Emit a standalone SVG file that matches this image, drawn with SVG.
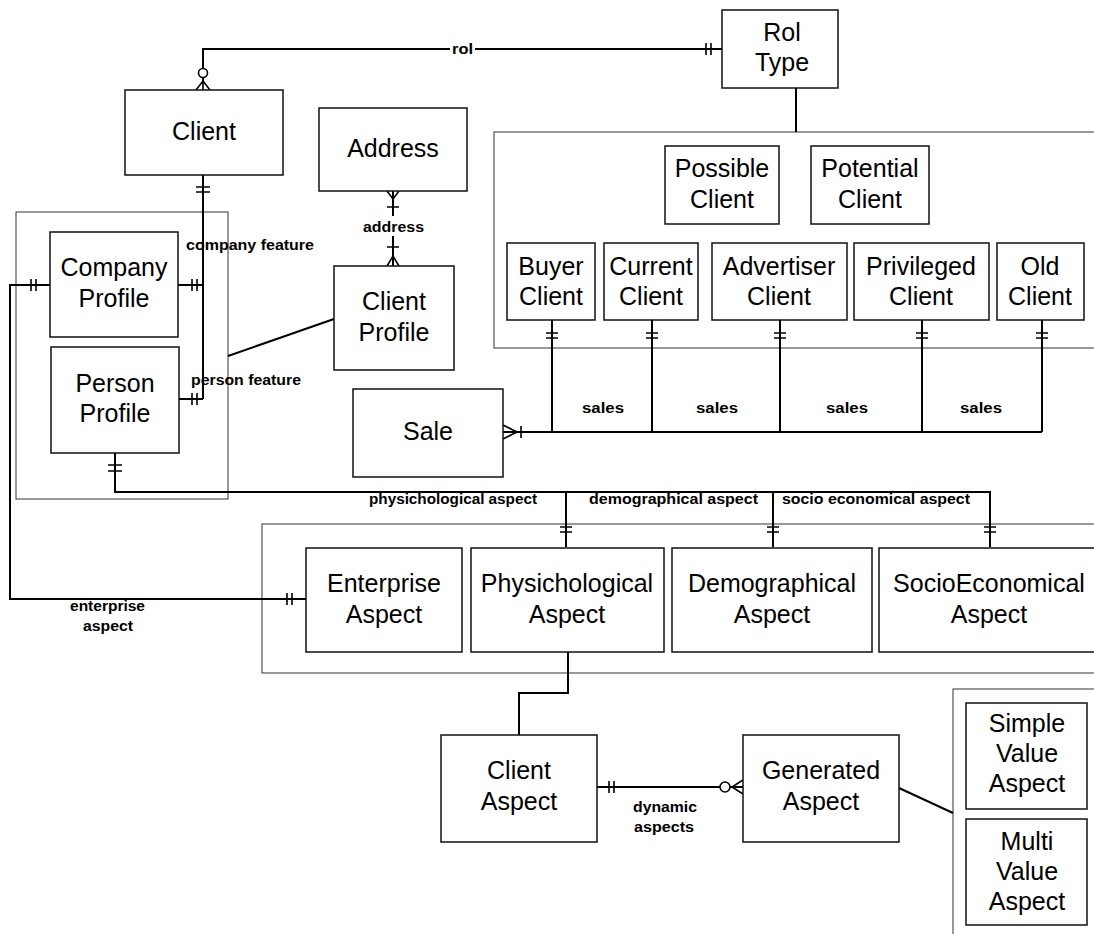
<svg xmlns="http://www.w3.org/2000/svg" width="1094" height="934" viewBox="0 0 1094 934">
  <style>
    .box { fill: #fff; stroke: #111; stroke-width: 1.5; }
    .grp { fill: none; stroke: #333; stroke-width: 1; }
    .ln  { fill: none; stroke: #000; stroke-width: 2; }
    .mk  { fill: none; stroke: #000; stroke-width: 1.6; }
    .o   { fill: #fff; stroke: #000; stroke-width: 1.6; }
    .t   { font-family: "Liberation Sans", Arial, sans-serif; font-size: 25px; text-anchor: middle; fill: #000; }
    .s   { font-family: "Liberation Sans", Arial, sans-serif; font-size: 14px; font-weight: bold; fill: #000; }
  </style>
  <rect width="1094" height="934" fill="#fff"/>

  <!-- subtype containers -->
  <g id="groups">
    <rect class="grp" x="16" y="212" width="212" height="287"/>
    <rect class="grp" x="494" y="132" width="700" height="216"/>
    <rect class="grp" x="262" y="524" width="900" height="149"/>
    <rect class="grp" x="953" y="689" width="200" height="300"/>
  </g>

  <!-- relationships -->
  <g id="connectors">
    <!-- rol -->
    <path class="ln" d="M203,82 V49 H450 M475,49 H722"/>
    <path class="mk" d="M196,90 L203,81 L210,90 M203,81 V90 M706,43 V55 M711,43 V55"/>
    <circle class="o" cx="203" cy="73" r="4.5"/>
    <text class="s" x="452" y="54" textLength="21" lengthAdjust="spacingAndGlyphs">rol</text>
    <path class="ln" d="M796,88 V132"/>

    <!-- client features -->
    <path class="ln" d="M203,175 V399 M178,285 H203 M179,399 H203"/>
    <path class="mk" d="M196,187 H210 M196,192 H210 M192,279 V291 M197,279 V291 M192,393 V405 M197,393 V405"/>
    <text class="s" x="186" y="250" textLength="128" lengthAdjust="spacingAndGlyphs">company feature</text>
    <text class="s" x="191" y="385" textLength="110" lengthAdjust="spacingAndGlyphs">person feature</text>
    <path class="ln" d="M334,319 L228,356"/>

    <!-- address -->
    <path class="ln" d="M393,191 V216 M393,236 V266"/>
    <path class="mk" d="M387,191 L393,199 L399,191 M387,207 H399 M387,266 L393,256 L399,266 M387,247 H399"/>
    <text class="s" x="363" y="232" textLength="61" lengthAdjust="spacingAndGlyphs">address</text>

    <!-- sales -->
    <path class="ln" d="M552,320 V432 M652,320 V432 M780,320 V432 M922,320 V432 M1042,320 V432 M503,432 H1042"/>
    <path class="mk" d="M546,333 H558 M546,338 H558 M646,333 H658 M646,338 H658 M774,333 H786 M774,338 H786 M916,333 H928 M916,338 H928 M1036,333 H1048 M1036,338 H1048"/>
    <path class="mk" d="M503,425 L517,432 L503,439 M521,426 V438"/>
    <text class="s" x="582" y="413" textLength="42" lengthAdjust="spacingAndGlyphs">sales</text>
    <text class="s" x="696" y="413" textLength="42" lengthAdjust="spacingAndGlyphs">sales</text>
    <text class="s" x="826" y="413" textLength="42" lengthAdjust="spacingAndGlyphs">sales</text>
    <text class="s" x="960" y="413" textLength="42" lengthAdjust="spacingAndGlyphs">sales</text>

    <!-- person aspects -->
    <path class="ln" d="M115,453 V492 H990 V547 M566,492 V547 M773,492 V547"/>
    <path class="mk" d="M108,465 H122 M108,471 H122 M560,527 H572 M560,532 H572 M767,527 H779 M767,532 H779 M984,527 H996 M984,532 H996"/>
    <text class="s" x="369" y="504" textLength="168" lengthAdjust="spacingAndGlyphs">physichological aspect</text>
    <text class="s" x="589" y="504" textLength="169" lengthAdjust="spacingAndGlyphs">demographical aspect</text>
    <text class="s" x="782" y="504" textLength="188" lengthAdjust="spacingAndGlyphs">socio economical aspect</text>

    <!-- enterprise aspect -->
    <path class="ln" d="M50,285 H10 V599 H306"/>
    <path class="mk" d="M31,279 V291 M36,279 V291 M287,593 V605 M292,593 V605"/>
    <text class="s" x="70" y="611" textLength="75" lengthAdjust="spacingAndGlyphs">enterprise</text>
    <text class="s" x="83" y="631" textLength="50" lengthAdjust="spacingAndGlyphs">aspect</text>

    <!-- client aspect -->
    <path class="ln" d="M568,652 V693 H519 V735"/>
    <path class="ln" d="M597,787 H743"/>
    <path class="mk" d="M609,781 V793 M614,781 V793 M743,780 L732,787 L743,794 M743,787 H732"/>
    <circle class="o" cx="725" cy="787" r="5"/>
    <text class="s" x="633" y="812" textLength="64" lengthAdjust="spacingAndGlyphs">dynamic</text>
    <text class="s" x="634" y="832" textLength="60" lengthAdjust="spacingAndGlyphs">aspects</text>
    <path class="ln" d="M899,788 L953,813"/>
  </g>

  <!-- entities -->
  <g id="client"><rect class="box" x="125" y="90" width="158" height="85"/><text class="t" x="204" y="140">Client</text></g>
  <g id="address"><rect class="box" x="319" y="108" width="148" height="83"/><text class="t" x="393" y="157">Address</text></g>
  <g id="rol-type"><rect class="box" x="722" y="10" width="116" height="78"/><text class="t" x="782" y="41">Rol</text><text class="t" x="782" y="71">Type</text></g>
  <g id="company-profile"><rect class="box" x="50" y="232" width="128" height="105"/><text class="t" x="114" y="276">Company</text><text class="t" x="114" y="307">Profile</text></g>
  <g id="person-profile"><rect class="box" x="51" y="347" width="128" height="106"/><text class="t" x="115" y="392">Person</text><text class="t" x="115" y="422">Profile</text></g>
  <g id="client-profile"><rect class="box" x="334" y="266" width="120" height="104"/><text class="t" x="394" y="310">Client</text><text class="t" x="394" y="341">Profile</text></g>
  <g id="possible-client"><rect class="box" x="665" y="146" width="114" height="78"/><text class="t" x="722" y="177">Possible</text><text class="t" x="722" y="208">Client</text></g>
  <g id="potential-client"><rect class="box" x="811" y="146" width="118" height="78"/><text class="t" x="870" y="177">Potential</text><text class="t" x="870" y="208">Client</text></g>
  <g id="buyer-client"><rect class="box" x="507" y="243" width="88" height="77"/><text class="t" x="551" y="275">Buyer</text><text class="t" x="551" y="305">Client</text></g>
  <g id="current-client"><rect class="box" x="604" y="243" width="94" height="77"/><text class="t" x="651" y="275">Current</text><text class="t" x="651" y="305">Client</text></g>
  <g id="advertiser-client"><rect class="box" x="712" y="243" width="135" height="77"/><text class="t" x="779" y="275">Advertiser</text><text class="t" x="779" y="305">Client</text></g>
  <g id="privileged-client"><rect class="box" x="854" y="243" width="135" height="77"/><text class="t" x="921" y="275">Privileged</text><text class="t" x="921" y="305">Client</text></g>
  <g id="old-client"><rect class="box" x="997" y="243" width="87" height="77"/><text class="t" x="1040" y="275">Old</text><text class="t" x="1040" y="305">Client</text></g>
  <g id="sale"><rect class="box" x="353" y="389" width="150" height="88"/><text class="t" x="428" y="440">Sale</text></g>
  <g id="enterprise-aspect"><rect class="box" x="306" y="548" width="156" height="104"/><text class="t" x="384" y="592">Enterprise</text><text class="t" x="384" y="623">Aspect</text></g>
  <g id="physichological-aspect"><rect class="box" x="471" y="548" width="193" height="104"/><text class="t" x="567" y="592">Physichological</text><text class="t" x="567" y="623">Aspect</text></g>
  <g id="demographical-aspect"><rect class="box" x="672" y="548" width="200" height="104"/><text class="t" x="772" y="592">Demographical</text><text class="t" x="772" y="623">Aspect</text></g>
  <g id="socioeconomical-aspect"><rect class="box" x="879" y="548" width="230" height="104"/><text class="t" x="989" y="592">SocioEconomical</text><text class="t" x="989" y="623">Aspect</text></g>
  <g id="client-aspect"><rect class="box" x="441" y="735" width="156" height="107"/><text class="t" x="519" y="779">Client</text><text class="t" x="519" y="810">Aspect</text></g>
  <g id="generated-aspect"><rect class="box" x="743" y="735" width="156" height="107"/><text class="t" x="821" y="779">Generated</text><text class="t" x="821" y="810">Aspect</text></g>
  <g id="simple-value-aspect"><rect class="box" x="966" y="703" width="121" height="106"/><text class="t" x="1027" y="732">Simple</text><text class="t" x="1027" y="762">Value</text><text class="t" x="1027" y="792">Aspect</text></g>
  <g id="multi-value-aspect"><rect class="box" x="966" y="819" width="121" height="106"/><text class="t" x="1027" y="850">Multi</text><text class="t" x="1027" y="880">Value</text><text class="t" x="1027" y="910">Aspect</text></g>
</svg>
